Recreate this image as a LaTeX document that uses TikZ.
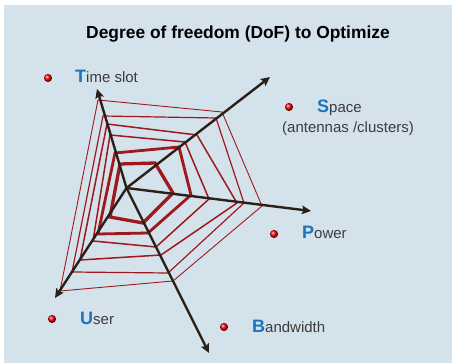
\documentclass[tikz,border=0pt]{standalone}
\usepackage{fontspec}
\setmainfont{Liberation Sans}
\usetikzlibrary{arrows.meta,shadings}
\definecolor{panel}{RGB}{212,226,236}
\definecolor{ringred}{RGB}{158,24,30}
\definecolor{axisdark}{RGB}{43,32,23}
\definecolor{capblue}{RGB}{26,117,188}
\definecolor{labelgray}{RGB}{60,60,60}
\tikzset{
  axisline/.style={draw=axisdark, line width=2.4pt,
    -{Stealth[length=9pt,width=8.5pt,inset=1.5pt]}},
  ring/.style={draw=ringred, line join=miter},
  bullet/.style={circle, minimum size=8.2pt, inner sep=0pt,
    shading=ball, ball color=red!90!black},
  label/.style={anchor=base west, inner sep=0pt, text=labelgray,
    font=\fontsize{15}{17}\selectfont}
}
\newcommand{\capword}[2]{{\fontsize{18}{20}\selectfont\bfseries\color{capblue}#1}#2}
\begin{document}
\begin{tikzpicture}[x=1pt,y=-1pt]
  % page and panel
  \useasboundingbox (0,0) rectangle (452,363);
  \fill[white] (0,0) rectangle (452,363);
  \fill[panel] (4,5) rectangle (452,363);

  % title
  \node[anchor=base west, inner sep=0pt, text=black,
        font=\fontsize{17.4}{20}\selectfont\bfseries] (title) at (86,39)
        {Degree of freedom (DoF) to Optimize};

  % rings, outermost to innermost
  \draw[ring, line width=0.9pt] (98,100) -- (222,112) -- (262,206) -- (173,281) -- (60,291) -- cycle;
  \draw[ring, line width=1.2pt] (103,116) -- (216,118) -- (244,203) -- (168,273) -- (72,272) -- cycle;
  \draw[ring, line width=1.5pt] (107,124) -- (197,135) -- (237,203) -- (161,255) -- (80,260) -- cycle;
  \draw[ring, line width=1.5pt] (110,135) -- (185,142) -- (209,199) -- (156,247) -- (93,241) -- cycle;
  \draw[ring, line width=2.8pt] (115,153) -- (179,147) -- (191,195) -- (148,233) -- (98,234) -- cycle;
  \draw[ring, line width=3.3pt] (120,164) -- (155,163) -- (173,193) -- (143,223) -- (110,217) -- cycle;

  % axes
  \coordinate (O) at (126.5,188);
  \coordinate (tT) at (97,89);
  \coordinate (tS) at (270,77);
  \coordinate (tP) at (311,211);
  \coordinate (tB) at (209,353);
  \coordinate (tU) at (55,298);
  \draw[axisline] (O) -- (tT);
  \draw[axisline] (O) -- (tS);
  \draw[axisline] (O) -- (tP);
  \draw[axisline] (O) -- (tB);
  \draw[axisline] (O) -- (tU);

  % bullets
  \node[bullet] (bT) at (48,78) {};
  \node[bullet] (bS) at (289,107) {};
  \node[bullet] (bP) at (274,234) {};
  \node[bullet] (bU) at (52,319) {};
  \node[bullet] (bB) at (224,327) {};

  % labels
  \node[label] (lT) at (75,83) {\capword{T}{ime slot}};
  \node[label] (lS) at (317,113) {\capword{S}{pace}};
  \node[label] (lS2) at (282,133) {(antennas /clusters)};
  \node[label] (lP) at (302,239) {\capword{P}{ower}};
  \node[label] (lU) at (80,324) {\capword{U}{ser}};
  \node[label] (lB) at (252,332) {\capword{B}{andwidth}};
\end{tikzpicture}
\end{document}
